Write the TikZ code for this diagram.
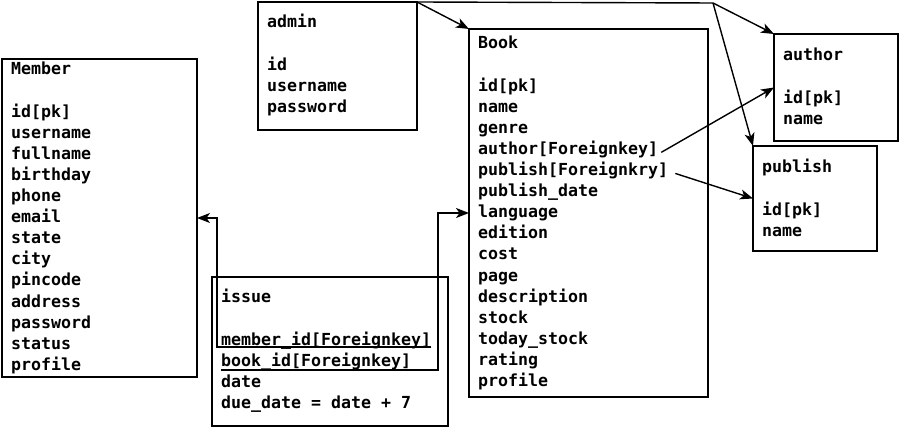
\documentclass[tikz,border=0pt]{standalone}
\usepackage{fontspec}
\newfontfamily\erfont{DejaVu Sans Mono}
\usetikzlibrary{arrows.meta,calc}

\tikzset{
  entity/.style={draw, line width=1.7pt, anchor=north west, outer sep=0pt, inner sep=0pt},
  field/.style={anchor=base west, inner sep=0pt, font=\erfont\bfseries\fontsize{16.6}{20}\selectfont},
  link/.style={line width=1.4pt, -{Stealth[length=13pt,width=10pt,inset=3.5pt]}},
}

\begin{document}
\begin{tikzpicture}[x=1pt, y=-1pt]
\useasboundingbox (0,0) rectangle (899,427);

% Tabellen (Rahmen)
\node[entity, minimum width=195pt, minimum height=318pt] (member) at (2,59) {};
\node[entity, minimum width=159pt, minimum height=128pt] (admin) at (258,2) {};
\node[entity, minimum width=239pt, minimum height=368pt] (book) at (469,29) {};
\node[entity, minimum width=124pt, minimum height=107pt] (author) at (774,34) {};
\node[entity, minimum width=124pt, minimum height=105pt] (publish) at (753,146) {};
\node[entity, minimum width=236pt, minimum height=149pt] (issue) at (212,277) {};

% Member
\node[field] (member-title) at ($(member.north west)+(9,16)$) {Member};
\foreach \f [count=\i from 2] in {id[pk], username, fullname, birthday, phone,
    email, state, city, pincode, address, password, status, profile}
  \node[field] (member-\i) at ($(member.north west)+(9,16+21.1*\i)$) {\f};

% admin
\node[field] (admin-title) at ($(admin.north west)+(9,26)$) {admin};
\foreach \f [count=\i from 2] in {id, username, password}
  \node[field] (admin-\i) at ($(admin.north west)+(9,26+21.1*\i)$) {\f};

% Book
\node[field] (book-title) at ($(book.north west)+(9,20)$) {Book};
\foreach \f [count=\i from 2] in {id[pk], name, genre, author[Foreignkey],
    publish[Foreignkry], publish\_date, language, edition, cost, page,
    description, stock, today\_stock, rating, profile}
  \node[field] (book-\i) at ($(book.north west)+(9,20+21.1*\i)$) {\f};

% author und publish
\node[field] (author-title) at ($(author.north west)+(9,27)$) {author};
\node[field] (publish-title) at ($(publish.north west)+(9,27)$) {publish};
\foreach \f [count=\i from 2] in {id[pk], name} {
  \node[field] (author-\i) at ($(author.north west)+(9,27+21.1*\i)$) {\f};
  \node[field] (publish-\i) at ($(publish.north west)+(9,27+21.1*\i)$) {\f};
}

% issue
\node[field] (issue-title) at ($(issue.north west)+(9,26)$) {issue};
\foreach \f [count=\i from 2] in {member\_id[Foreignkey], book\_id[Foreignkey],
    date, due\_date = date + 7}
  \node[field] (issue-\i) at ($(issue.north west)+(9,26+21.1*\i)$) {\f};

% Verbindungen von admin
\coordinate (hub) at (713,3);
\draw[link] (admin.north east) -- (book.north west);
\draw[line width=1.4pt] (admin.north east) -- (hub);
\draw[link] (hub) -- (author.north west);
\draw[link] (hub) -- (publish.north west);

% Fremdschluessel in Book
\draw[link] ([xshift=3pt]book-5.mid east) -- (author.west);
\draw[link] ([xshift=7pt]book-6.mid east) -- (publish.west);

% Fremdschluessel in issue (Linie = Unterstreichung)
\coordinate (fk-m) at ([yshift=-2pt]issue-2.base east);
\coordinate (fk-b) at ([yshift=-3.5pt]issue-3.base west);
\coordinate (fk-turn) at ([xshift=-31pt]book.west);
\draw[link] (fk-m) -| ([xshift=20pt]member.east) -- (member.east);
\draw[link] (fk-b) -| (fk-turn) -- (book.west);

\end{tikzpicture}
\end{document}
